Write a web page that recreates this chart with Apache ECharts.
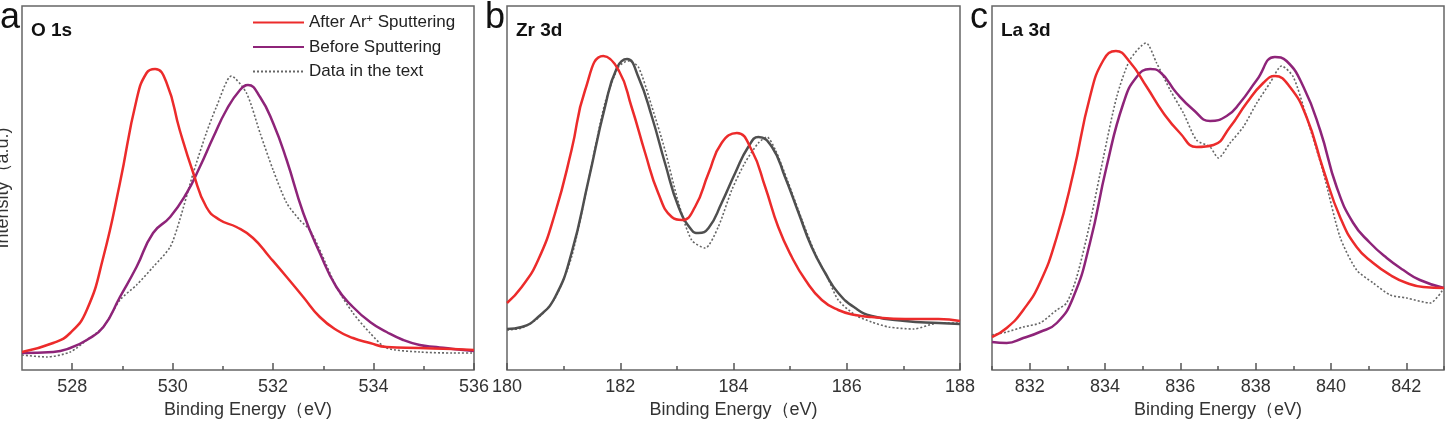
<!DOCTYPE html>
<html>
<head>
<meta charset="utf-8">
<script src="https://cdn.jsdelivr.net/npm/echarts@6/dist/echarts.min.js"></script>
<style>
  html, body { margin: 0; padding: 0; background: #fff; }
  #chart { width: 1448px; height: 430px; }
</style>
</head>
<body>
<div id="chart"></div>
<script>
// O 1s  (binding energy, intensity a.u.)
var o1sAfter = [[527,18],[527.62,27],[527.96,37],[528.29,60],[528.62,113],[528.95,187],[529.28,270],[529.48,297],[529.65,301],[529.88,287],[530.14,240],[530.41,197],[530.67,163],[530.94,150],[531.27,143],[531.6,132],[531.93,113],[532.27,93],[532.6,73],[532.93,53],[533.26,40],[533.59,32],[533.93,27],[534.26,23],[534.92,22],[535.58,21],[536,20]];
var o1sBefore = [[527,17],[527.62,18],[527.96,22],[528.29,30],[528.62,43],[528.95,73],[529.28,103],[529.61,137],[529.95,153],[530.28,177],[530.54,203],[530.81,233],[531.07,260],[531.34,280],[531.5,285],[531.74,273],[532,247],[532.27,210],[532.6,157],[532.93,117],[533.26,83],[533.59,63],[533.93,48],[534.26,38],[534.59,30],[534.92,25],[535.25,23],[535.58,21],[536,19]];
var o1sText = [[527,15],[527.49,13],[527.96,18],[528.29,30],[528.62,43],[528.95,70],[529.28,85],[529.61,103],[529.95,123],[530.14,150],[530.41,197],[530.67,237],[530.87,263],[531.17,294],[531.47,277],[531.74,237],[532,200],[532.27,167],[532.53,150],[532.73,140],[532.93,120],[533.26,83],[533.59,57],[533.93,37],[534.26,22],[534.92,18],[535.58,17],[536,17]];

// Zr 3d
var zr3dAfter = [[180,67],[180.26,83],[180.55,110],[180.85,157],[181.14,220],[181.38,280],[181.7,314],[181.97,300],[182.2,263],[182.44,217],[182.67,177],[182.91,153],[183.09,150],[183.32,163],[183.56,197],[183.79,227],[184.06,237],[184.32,220],[184.56,183],[184.79,143],[185.03,113],[185.27,90],[185.56,70],[185.85,60],[186.15,55],[186.44,53],[187.03,51],[187.62,51],[188,49]];
var zr3dBefore = [[180,41],[180.26,43],[180.55,53],[180.85,73],[181.14,117],[181.44,190],[181.73,263],[181.94,302],[182.12,311],[182.32,293],[182.56,253],[182.79,207],[183.03,163],[183.26,140],[183.38,137],[183.56,142],[183.79,167],[184.03,197],[184.26,223],[184.44,233],[184.68,223],[184.91,193],[185.15,157],[185.38,123],[185.62,97],[185.85,77],[186.15,62],[186.44,54],[187.03,49],[187.62,47],[188,46]];
var zr3dText = [[180,40],[180.26,42],[180.55,52],[180.85,72],[181.14,113],[181.44,190],[181.73,267],[181.97,303],[182.14,309],[182.32,303],[182.56,263],[182.79,220],[183.03,167],[183.26,130],[183.5,122],[183.73,143],[183.97,180],[184.2,207],[184.44,227],[184.59,233],[184.74,220],[184.97,187],[185.21,150],[185.44,117],[185.68,90],[185.85,70],[186.15,55],[186.44,48],[186.74,43],[187.18,41],[187.62,47],[188,47]];

// La 3d
var la3dAfter = [[831,33],[831.39,42],[831.83,60],[832.27,87],[832.72,133],[833.16,197],[833.6,273],[833.96,310],[834.29,319],[834.66,308],[835.11,283],[835.55,257],[835.99,237],[836.43,223],[836.88,225],[837.32,243],[837.76,267],[838.2,287],[838.51,294],[838.91,283],[839.35,253],[839.8,200],[840.24,153],[840.68,123],[841.12,107],[841.57,95],[842.01,87],[842.45,83],[843,82]];
var la3dBefore = [[831,28],[831.39,27],[831.83,32],[832.27,38],[832.72,47],[833.16,73],[833.6,127],[834.04,203],[834.49,267],[834.84,293],[835.2,301],[835.46,298],[835.9,277],[836.35,260],[836.79,249],[837.23,254],[837.58,267],[838.03,290],[838.51,313],[838.82,309],[839.27,283],[839.71,240],[840.15,183],[840.59,147],[841.04,127],[841.48,112],[841.92,100],[842.36,90],[843,82]];
var la3dText = [[831,35],[831.39,38],[831.83,43],[832.27,47],[832.72,60],[832.98,67],[833.25,93],[833.6,147],[833.96,213],[834.31,273],[834.66,310],[835.09,327],[835.37,307],[835.73,280],[836.08,257],[836.43,230],[836.79,223],[837.01,212],[837.32,227],[837.67,243],[838.03,267],[838.38,287],[838.69,304],[839,293],[839.35,253],[839.8,197],[840.24,133],[840.68,100],[841.12,87],[841.57,75],[842.01,72],[842.63,67],[843,82]];

var panels = [
  { letter: 'a', title: 'O 1s', left: 22, width: 452, min: 527, max: 536,
    major: [528, 530, 532, 534, 536], minor: [529, 531, 533, 535],
    after: o1sAfter, before: o1sBefore, text: o1sText, beforeColor: '#8e2479' },
  { letter: 'b', title: 'Zr 3d', left: 507, width: 453, min: 180, max: 188,
    major: [180, 182, 184, 186, 188], minor: [181, 183, 185, 187],
    after: zr3dAfter, before: zr3dBefore, text: zr3dText, beforeColor: '#4f4f4f' },
  { letter: 'c', title: 'La 3d', left: 992, width: 452, min: 831, max: 843,
    major: [832, 834, 836, 838, 840, 842], minor: [831, 833, 835, 837, 839, 841, 843],
    after: la3dAfter, before: la3dBefore, text: la3dText, beforeColor: '#8e2479' }
];

var names = ['After Ar+ Sputtering', 'Before Sputtering', 'Data in the text'];
var font = '"Liberation Sans", Arial, sans-serif';
var grid = [], xAxis = [], yAxis = [], series = [], graphic = [];

panels.forEach(function (p, i) {
  grid.push({ left: p.left, width: p.width, top: 6, height: 364, show: true,
    borderColor: '#666', borderWidth: 1.5, backgroundColor: '#fff' });
  xAxis.push({
    type: 'value', gridIndex: i, min: p.min, max: p.max,
    name: 'Binding Energy（eV)', nameLocation: 'middle', nameGap: 30,
    nameTextStyle: { fontSize: 18, color: '#333', fontFamily: font },
    axisLine: { show: false },
    axisTick: { inside: true, length: 7, customValues: p.major, lineStyle: { color: '#555', width: 1.5 } },
    axisLabel: { customValues: p.major, fontSize: 18, color: '#333', fontFamily: font, margin: 8 },
    splitLine: { show: false }
  });
  xAxis.push({
    type: 'value', gridIndex: i, min: p.min, max: p.max, position: 'bottom',
    axisLine: { show: false },
    axisTick: { inside: true, length: 4, customValues: p.minor, lineStyle: { color: '#555', width: 1.5 } },
    axisLabel: { show: false }, splitLine: { show: false }
  });
  yAxis.push({ type: 'value', gridIndex: i, min: 0, max: 364, show: false, splitLine: { show: false } });

  var base = { type: 'line', xAxisIndex: i * 2, yAxisIndex: i, symbol: 'none', animation: false };
  series.push(Object.assign({}, base, { name: names[0], data: p.after, smooth: true,
    lineStyle: { color: '#ec2b2b', width: 2.5 }, itemStyle: { color: '#ec2b2b' }, z: 3 }));
  series.push(Object.assign({}, base, { name: names[1], data: p.before, smooth: true,
    lineStyle: { color: p.beforeColor, width: 2.5 }, itemStyle: { color: p.beforeColor }, z: 2 }));
  series.push(Object.assign({}, base, { name: names[2], data: p.text, smooth: 0.25,
    lineStyle: { color: '#666', width: 1.6, type: [2, 2] }, itemStyle: { color: '#666' }, z: 1 }));

  graphic.push({ type: 'text', left: p.left - 22, top: 0,
    style: { text: p.letter, fontSize: 36, fill: '#111', fontFamily: font } });
  graphic.push({ type: 'text', left: p.left + 9, top: 21,
    style: { text: p.title, fontSize: 19, fontWeight: 'bold', fill: '#111', fontFamily: font } });
});

graphic.push({ type: 'text', x: 12, y: 188, rotation: Math.PI / 2,
  style: { text: 'Intensity（a.u.)', fontSize: 18, fill: '#333', fontFamily: font,
    align: 'center', verticalAlign: 'bottom' } });

var chart = echarts.init(document.getElementById('chart'));
chart.setOption({
  backgroundColor: '#fff',
  animation: false,
  grid: grid, xAxis: xAxis, yAxis: yAxis, series: series, graphic: graphic,
  legend: {
    data: names, orient: 'vertical', left: 252, top: 13, padding: 0,
    itemWidth: 51, itemHeight: 12, itemGap: 7.5,
    itemStyle: { opacity: 0 },
    textStyle: { fontSize: 17, color: '#222', fontFamily: font,
      rich: { sup: { fontSize: 11, padding: [0, 0, 8, 0] } } },
    formatter: function (n) {
      return n === names[0] ? 'After Ar{sup|+} Sputtering' : n;
    },
    selectedMode: false
  }
});
window.addEventListener('resize', function () { chart.resize(); });
</script>
</body>
</html>
